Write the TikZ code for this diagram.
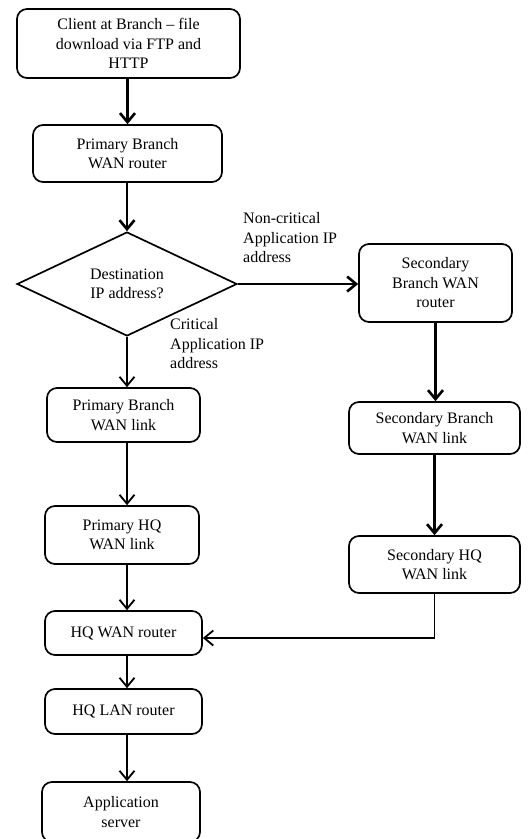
\documentclass[tikz,border=0pt]{standalone}
\usepackage{fontspec}
\setmainfont{Liberation Serif}
\usetikzlibrary{positioning,arrows.meta,shapes.geometric}
\definecolor{linec}{HTML}{000000}
\newcommand{\boxfont}{\fontsize{16}{19.5}\selectfont}

\begin{document}
\begin{tikzpicture}[x=1pt,y=-1pt,
  box/.style={draw=linec,line width=1.7pt,rounded corners=10pt,align=center,inner sep=0pt,font=\boxfont},
  decision/.style={draw=linec,line width=1.7pt,diamond,aspect=2,inner sep=0pt,align=center,
    minimum width=220pt,minimum height=104pt,font=\boxfont},
  note/.style={align=left,anchor=west,inner sep=0pt,font=\boxfont},
  flow/.style={draw=linec,line width=2.6pt,-{Straight Barb[length=9pt,width=15pt]}},
  thinflow/.style={flow,line width=1.8pt}]
  \useasboundingbox (0,0) rectangle (532,839);

  % left column
  \node[box,minimum width=223pt,minimum height=69pt] (client) at (128.5,43.5)
    {Client at Branch -- file\\download via FTP and\\HTTP};
  \node[box,minimum width=189pt,minimum height=57pt] (pbr) at (127.5,153.5)
    {Primary Branch\\WAN router};
  \node[decision] (dest) at (127,284) {Destination\\IP address?};
  \node[box,minimum width=153pt,minimum height=54pt] (pbl) at (123.5,415)
    {Primary Branch\\WAN link};
  \node[box,minimum width=154pt,minimum height=58pt] (phq) at (122,535)
    {Primary HQ\\WAN link};
  \node[box,minimum width=157pt,minimum height=44pt] (hqw) at (123.5,633)
    {HQ WAN router};
  \node[box,minimum width=157pt,minimum height=45pt] (hql) at (123.5,711.5)
    {HQ LAN router};
  \node[box,minimum width=158pt,minimum height=60pt] (app) at (121,812)
    {Application\\server};

  % right column
  \node[box,minimum width=153pt,minimum height=78pt] (sbr) at (435.5,283)
    {Secondary\\Branch WAN\\router};
  \node[box,minimum width=171pt,minimum height=52pt] (sbl) at (434.5,428)
    {Secondary Branch\\WAN link};
  \node[box,minimum width=171pt,minimum height=57pt] (shq) at (434.5,564.5)
    {Secondary HQ\\WAN link};

  % branch labels
  \node[note] (noncrit) at (243,238) {Non-critical\\Application IP\\address};
  \node[note] (crit) at (170,344) {Critical\\Application IP\\address};

  % connectors
  \draw[flow] (client.south -| pbr.north) -- (pbr.north);
  \draw[flow] (pbr.south -| dest.north) -- (dest.north);
  \draw[flow] (dest.east) -- (dest.east -| sbr.west);
  \draw[thinflow] (dest.south) -- (dest.south |- pbl.north);
  \draw[thinflow] (pbl.south -| dest.south) -- (dest.south |- phq.north);
  \draw[thinflow] (phq.south -| dest.south) -- (dest.south |- hqw.north);
  \draw[thinflow] (hqw.south -| dest.south) -- (dest.south |- hql.north);
  \draw[thinflow] (hql.south -| dest.south) -- (dest.south |- app.north);
  \draw[flow] (sbr.south) -- (sbr.south |- sbl.north);
  \draw[flow] (sbl.south) -- (sbl.south |- shq.north);
  \draw[thinflow] (shq.south) |- ([yshift=-5pt]hqw.east);
\end{tikzpicture}
\end{document}
